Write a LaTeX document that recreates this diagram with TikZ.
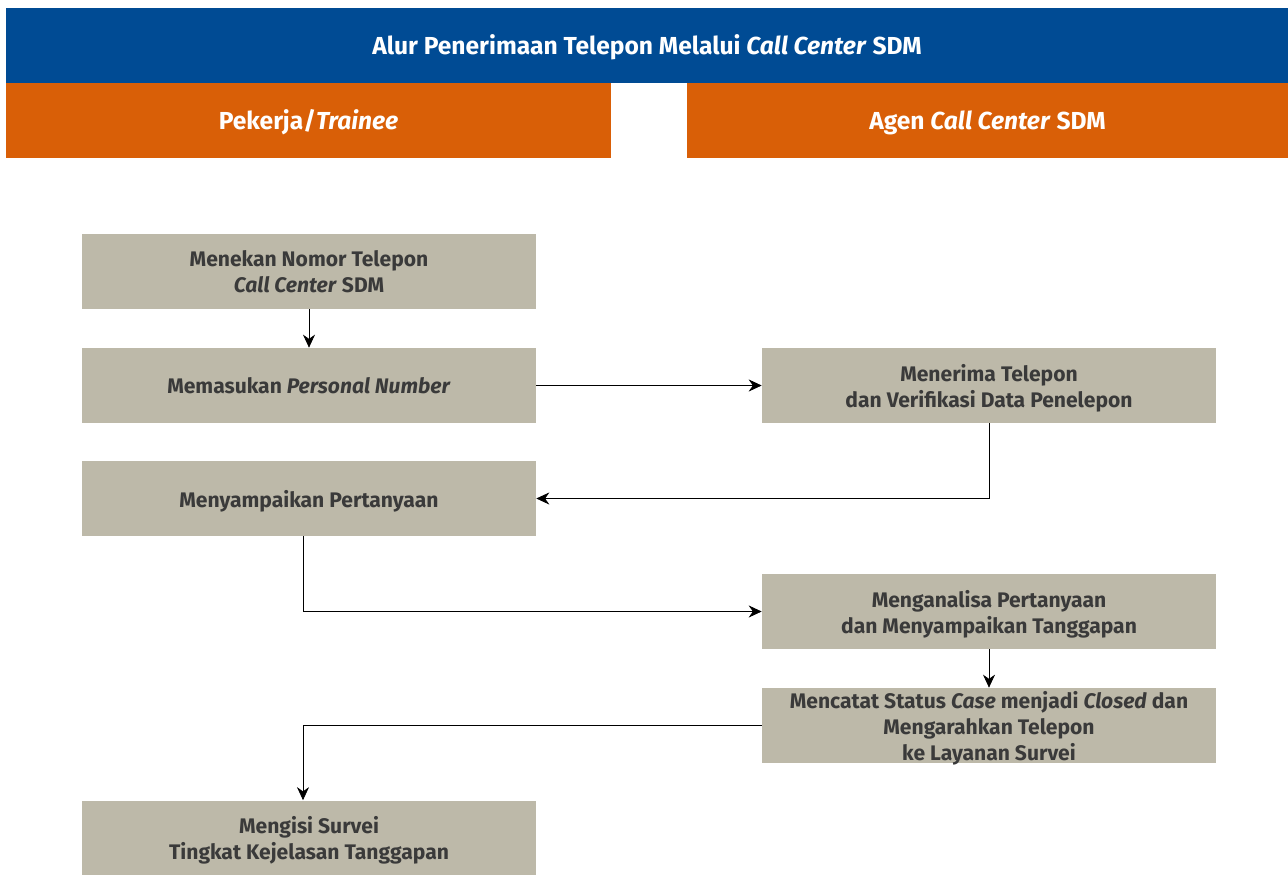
\documentclass[tikz,border=0pt]{standalone}
\usepackage{fontspec}
\setmainfont{Fira Sans}
\usepackage{tikz}
\usetikzlibrary{arrows.meta}

\definecolor{headblue}{HTML}{004B94}
\definecolor{laneorange}{HTML}{D95F07}
\definecolor{boxgray}{HTML}{BDB9A9}
\definecolor{textgray}{HTML}{3A3A3A}

\begin{document}
\begin{tikzpicture}[x=0.02cm, y=-0.02cm, >={Stealth[length=2.6mm, width=2.4mm]},
	every node/.style={font=\bfseries\fontsize{12}{14.8}\selectfont},
	stepbox/.style={fill=boxgray, text=textgray, minimum width=9.08cm, minimum height=1.5cm, align=center, inner sep=0pt, text depth=0pt},
	bar/.style={text=white, inner sep=0pt, align=center, text height=9.7pt, text depth=0pt, font=\bfseries\fontsize{14}{16}\selectfont}]
	\useasboundingbox (0,0) rectangle (1288,875);
	% header and lanes
	\node[bar, fill=headblue, minimum width=25.64cm, minimum height=1.5cm] (title) at (647,45.5) {Alur Penerimaan Telepon Melalui \textit{Call Center} SDM};
	\node[bar, fill=laneorange, minimum width=12.1cm, minimum height=1.5cm] (lanea) at (308.5,120.5) {Pekerja/\textit{Trainee}};
	\node[bar, fill=laneorange, minimum width=12.02cm, minimum height=1.5cm] (laneb) at (987.5,120.5) {Agen \textit{Call Center} SDM};
	% steps
	\node[stepbox] (menekan) at (309,271.5) {Menekan Nomor Telepon\\\textit{Call Center} SDM};
	\node[stepbox] (memasukan) at (309,385.5) {Memasukan \textit{Personal Number}};
	\node[stepbox] (menerima) at (989,385.5) {Menerima Telepon\\dan Verifikasi Data Penelepon};
	\node[stepbox] (menyampaikan) at (309,498.5) {Menyampaikan Pertanyaan};
	\node[stepbox] (menganalisa) at (989,611.5) {Menganalisa Pertanyaan\\dan Menyampaikan Tanggapan};
	\node[stepbox] (mencatat) at (989,725.5) {Mencatat Status \textit{Case} menjadi \textit{Closed} dan\\Mengarahkan Telepon\\ke Layanan Survei};
	\node[stepbox] (mengisi) at (309,838) {Mengisi Survei\\Tingkat Kejelasan Tanggapan};
	% flow
	\draw[->] (menekan) -- (memasukan);
	\draw[->] (memasukan) -- (menerima);
	\draw[->] (menerima.south) |- (menyampaikan.east);
	\draw[->] ([xshift=-0.12cm]menyampaikan.south) |- (menganalisa.west);
	\draw[->] (menganalisa) -- (mencatat);
	\draw[->] (mencatat.west) -| ([xshift=-0.12cm]mengisi.north);
\end{tikzpicture}
\end{document}
